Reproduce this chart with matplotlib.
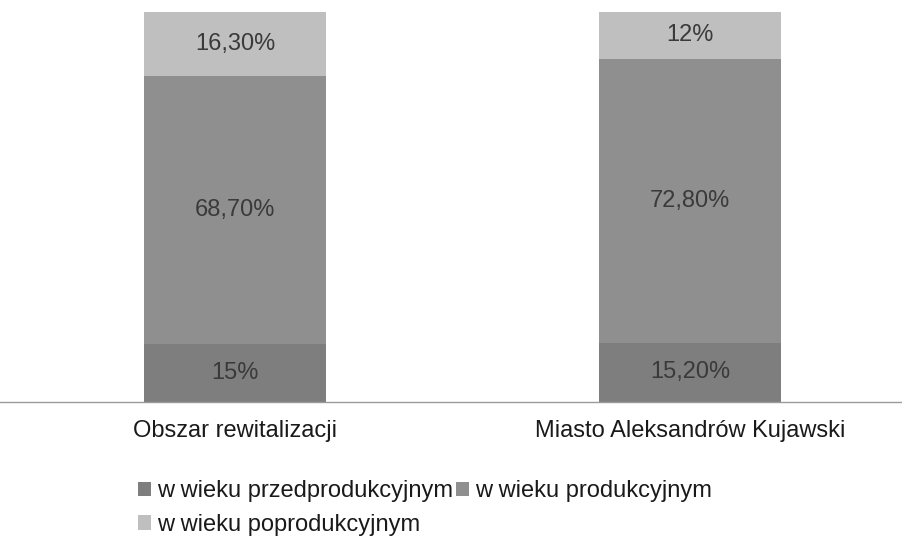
import matplotlib
matplotlib.use("Agg")
import matplotlib.pyplot as plt
import numpy as np

plt.rcParams['font.family'] = ['Liberation Sans', 'DejaVu Sans']

categories = ["Obszar rewitalizacji", "Miasto Aleksandrów Kujawski"]
series_names = ["w wieku przedprodukcyjnym", "w wieku produkcyjnym", "w wieku poprodukcyjnym"]
przed = [15.0, 15.2]
prod = [68.7, 72.8]
po = [16.3, 12.0]
labels_przed = ["15%", "15,20%"]
labels_prod = ["68,70%", "72,80%"]
labels_po = ["16,30%", "12%"]

colors = ["#7e7e7e", "#8f8f8f", "#bfbfbf"]

fig = plt.figure(figsize=(9.02, 5.37), dpi=100)
ax = fig.add_axes([0.0, 1 - 402 / 537, 1.0, (402 - 12) / 537])

x = np.arange(len(categories))
w = 0.4
series = [przed, prod, po]
lbls = [labels_przed, labels_prod, labels_po]
bottom = np.zeros(len(categories))
handles = []
for vals, col, name, lab in zip(series, colors, series_names, lbls):
    b = ax.bar(x, vals, w, bottom=bottom, color=col, label=name, linewidth=0)
    handles.append(b)
    for xi, v, bt, t in zip(x, vals, bottom, lab):
        ax.text(xi, bt + v / 2, t, ha='center', va='center', fontsize=17, color='#3a3a3a')
    bottom = bottom + np.array(vals)

ax.set_ylim(0, 100)
ax.set_xlim(-235 / 455, (902 - 235) / 455)
ax.set_yticks([])
ax.set_xticks(x)
ax.set_xticklabels(categories, fontsize=17, color='#1a1a1a')
ax.tick_params(axis='x', length=0, pad=13)
for s in ['top', 'left', 'right']:
    ax.spines[s].set_visible(False)
ax.spines['bottom'].set_color('#9a9a9a')
ax.spines['bottom'].set_linestyle((0, (1, 1)))
ax.spines['bottom'].set_linewidth(1.0)

order = [0, 2, 1]
leg = fig.legend([handles[i] for i in order], [series_names[i] for i in order],
                 ncol=2, loc='upper left', bbox_to_anchor=(138 / 902, 1 - 480 / 537),
                 frameon=False, fontsize=17, handlelength=0.55, handleheight=0.55,
                 handletextpad=0.25, columnspacing=0.15, labelspacing=0.5,
                 borderpad=0, borderaxespad=0)
for t in leg.get_texts():
    t.set_color('#1a1a1a')

fig.savefig("out.png", dpi=100)
